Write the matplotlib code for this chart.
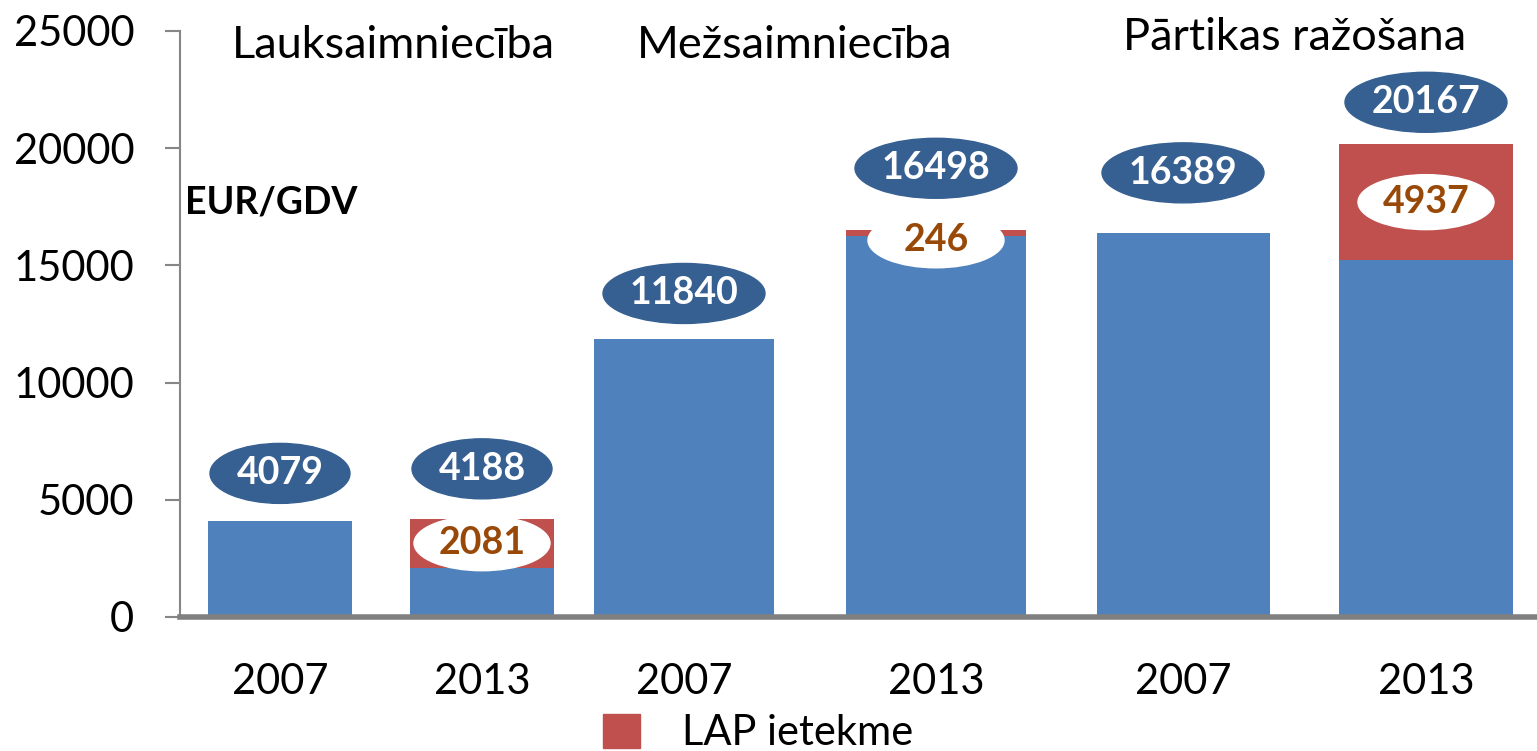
import matplotlib.pyplot as plt
from matplotlib.patches import Ellipse, Patch

plt.rcParams['font.family'] = ['Lato', 'DejaVu Sans']

# data
sectors = ["Lauksaimniecība", "Mežsaimniecība", "Pārtikas ražošana"]
years = ["2007", "2013", "2007", "2013", "2007", "2013"]
totals = [4079, 4188, 11840, 16498, 16389, 20167]
lap_effect = [0, 2081, 0, 246, 0, 4937]
base = [t - l for t, l in zip(totals, lap_effect)]

# layout (pixel based x axis)
W, H = 1537, 751
x_pos = [280, 482, 684, 936, 1183, 1426]
widths = [144, 144, 180, 180, 173, 174]
title_x = [393, 795, 1295]
title_y = [45, 45, 37]
top_off = [48, 50, 46, 62, 60, 42]     # px above bar top for total label
red_off = [0, 0, 0, -12, 0, 0]         # px shift for LAP label

BLUE = "#4F81BD"
RED = "#C0504D"
DARK = "#376092"
BROWN = "#984807"
GRAY = "#868686"

fig = plt.figure(figsize=(W / 100, H / 100), dpi=100)
ax = fig.add_axes([180 / W, (H - 617) / H, (W - 180) / W, (617 - 31) / H])
ax.set_xlim(180, W)
ax.set_ylim(0, 25000)
upp = 25000 / (617 - 31)  # data units per pixel

ax.bar(x_pos, base, width=widths, color=BLUE, zorder=2)
ax.bar(x_pos, lap_effect, bottom=base, width=widths, color=RED, zorder=2)

# total labels in dark ellipses
for x, t, off in zip(x_pos, totals, top_off):
    yc = t + off * upp
    w = 140 if t < 10000 else 162
    ax.add_patch(Ellipse((x, yc), w, 60 * upp, color=DARK, zorder=3, clip_on=False))
    ax.text(x, yc, str(t), ha="center", va="center", color="white",
            fontsize=27, fontweight="bold", zorder=4)

# LAP labels in white ellipses
for x, b, l, off in zip(x_pos, base, lap_effect, red_off):
    if l == 0:
        continue
    yc = b + l / 2 + off * upp
    if l < 1000:
        yc = b + l - 10 * upp
    ax.add_patch(Ellipse((x, yc), 136, 55 * upp, color="white", zorder=3))
    ax.text(x, yc, str(l), ha="center", va="center", color=BROWN,
            fontsize=27, fontweight="bold", zorder=4)

for s in ["top", "right", "bottom"]:
    ax.spines[s].set_visible(False)
ax.spines["left"].set_color(GRAY)
ax.spines["left"].set_linewidth(1.5)
ax.axhline(0, color="#808080", linewidth=4, zorder=5, clip_on=False)

ax.set_yticks(range(0, 25001, 5000))
ax.tick_params(axis="y", length=11, width=1.5, color=GRAY, labelsize=30, pad=22)
ax.set_xticks(x_pos)
ax.set_xticklabels(years)
ax.tick_params(axis="x", length=0, labelsize=30, pad=33)

for name, tx, ty in zip(sectors, title_x, title_y):
    fig.text(tx / W, 1 - ty / H, name, ha="center", va="center", fontsize=32.5)

fig.text(185 / W, 1 - 202 / H, "EUR/GDV", ha="left", va="center",
         fontsize=27, fontweight="bold")

fig.legend(handles=[Patch(color=RED, label="LAP ietekme")], loc="center",
           bbox_to_anchor=(758 / W, 1 - 733 / H), frameon=False, fontsize=30,
           handlelength=0.9, handleheight=0.9, handletextpad=1.0)

fig.savefig("out.png", dpi=100)
